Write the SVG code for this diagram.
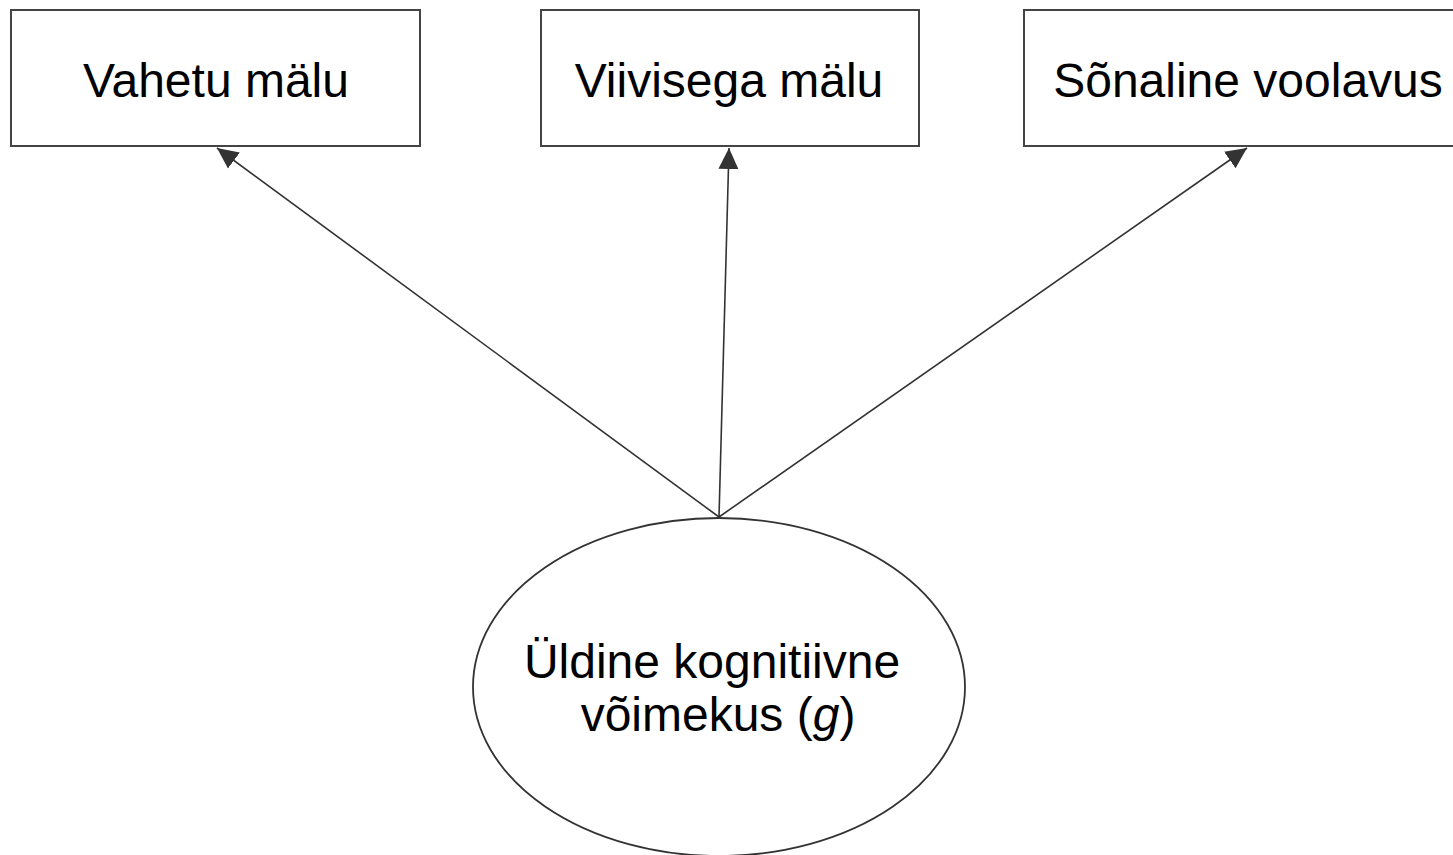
<svg xmlns="http://www.w3.org/2000/svg" width="1453" height="855" viewBox="0 0 1453 855">
<style>
.box{fill:#fff;stroke:#444;stroke-width:2}
.ell{fill:#fff;stroke:#333;stroke-width:1.8}
.lbl{font-family:"Liberation Sans",Arial,sans-serif;font-size:48px;fill:#000}
.edge{stroke:#333;stroke-width:1.6;fill:none;marker-end:url(#arr)}
</style>
<defs>
<marker id="arr" markerUnits="userSpaceOnUse" markerWidth="22" markerHeight="22" refX="21" refY="10" orient="auto" viewBox="0 0 22 20">
<path d="M0,0 L21,10 L0,20 Z" fill="#333"/>
</marker>
</defs>
<rect width="1453" height="855" fill="#fff"/>
<g id="connectors">
<line class="edge" x1="719" y1="517" x2="217" y2="148"/>
<line class="edge" x1="719" y1="517" x2="729" y2="148"/>
<line class="edge" x1="719" y1="517" x2="1247" y2="148"/>
</g>
<g id="n1">
<rect class="box" x="11" y="10" width="409" height="136"/>
<text class="lbl" x="216" y="97" text-anchor="middle">Vahetu mälu</text>
</g>
<g id="n2">
<rect class="box" x="541" y="10" width="378" height="136"/>
<text class="lbl" x="729" y="97" text-anchor="middle">Viivisega mälu</text>
</g>
<g id="n3">
<rect class="box" x="1024" y="10" width="450" height="136"/>
<text class="lbl" x="1248" y="97" text-anchor="middle">Sõnaline voolavus</text>
</g>
<g id="n4">
<ellipse class="ell" cx="719" cy="687" rx="246" ry="169"/>
<text class="lbl" x="712" y="678" text-anchor="middle">Üldine kognitiivne</text>
<text class="lbl" x="718" y="731" text-anchor="middle">võimekus (<tspan font-style="italic">g</tspan>)</text>
</g>
</svg>
